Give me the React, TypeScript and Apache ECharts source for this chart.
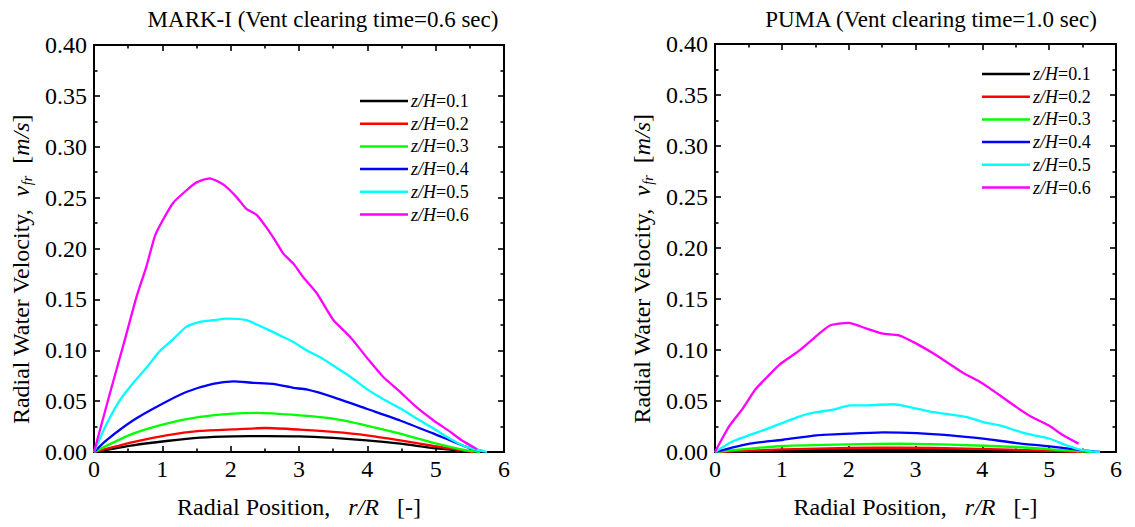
import React, { useEffect, useRef } from "react";
import * as echarts from "echarts";

// ---- Data ----
const seriesNames = ["z/H=0.1", "z/H=0.2", "z/H=0.3", "z/H=0.4", "z/H=0.5", "z/H=0.6"];
const seriesColors = ["#000000", "#ff0000", "#00ff00", "#0000ff", "#00ffff", "#ff00ff"];

const titleLeft = "MARK-I (Vent clearing time=0.6 sec)";
const titleRight = "PUMA (Vent clearing time=1.0 sec)";

const xTicks = [0, 1, 2, 3, 4, 5, 6];
const yTicks = [0, 0.05, 0.1, 0.15, 0.2, 0.25, 0.3, 0.35, 0.4];

// MARK-I
const mark01: [number, number][] = [
  [0, 0], [0.57, 0.0066], [1.06, 0.0108], [1.55, 0.0141], [2.04, 0.0154], [2.52, 0.0157],
  [3.01, 0.0154], [3.5, 0.0138], [3.99, 0.0115], [4.48, 0.0082], [4.97, 0.0039], [5.55, 0],
];
const mark02: [number, number][] = [
  [0, 0], [0.57, 0.0098], [1.06, 0.0164], [1.55, 0.0207], [2.04, 0.0223], [2.52, 0.0236],
  [3.01, 0.022], [3.5, 0.0197], [3.99, 0.0164], [4.48, 0.0115], [4.97, 0.0059], [5.55, 0],
];
const mark03: [number, number][] = [
  [0, 0], [0.57, 0.018], [1.06, 0.028], [1.55, 0.0345], [2.04, 0.0377], [2.38, 0.0384],
  [3.01, 0.036], [3.5, 0.0328], [3.99, 0.026], [4.48, 0.018], [4.97, 0.0089], [5.45, 0.0016], [5.65, 0],
];
const mark04: [number, number][] = [
  [0, 0], [0.18, 0.0115], [0.57, 0.031], [0.96, 0.046], [1.35, 0.059], [1.74, 0.067],
  [2.04, 0.0695], [2.33, 0.068], [2.62, 0.067], [2.92, 0.063], [3.11, 0.0615], [3.5, 0.054],
  [3.99, 0.0425], [4.48, 0.031], [4.97, 0.018], [5.45, 0.005], [5.7, 0.0007],
];
const mark05: [number, number][] = [
  [0, 0], [0.18, 0.027], [0.38, 0.051], [0.6, 0.07], [0.77, 0.083], [0.96, 0.099],
  [1.16, 0.111], [1.35, 0.123], [1.55, 0.128], [1.74, 0.1295], [1.94, 0.131], [2.23, 0.1295],
  [2.52, 0.121], [2.77, 0.113], [2.92, 0.108], [3.11, 0.1], [3.31, 0.093], [3.5, 0.085],
  [3.75, 0.074], [3.99, 0.062], [4.23, 0.052], [4.48, 0.043], [4.72, 0.033], [4.97, 0.023],
  [5.21, 0.013], [5.45, 0.005], [5.75, 0],
];
const mark06: [number, number][] = [
  [0, 0], [0.23, 0.057], [0.45, 0.11], [0.62, 0.152], [0.77, 0.183], [0.89, 0.212],
  [1.0, 0.227], [1.16, 0.245], [1.35, 0.257], [1.5, 0.265], [1.69, 0.269], [1.89, 0.263],
  [2.08, 0.251], [2.23, 0.239], [2.38, 0.233], [2.52, 0.221], [2.65, 0.208], [2.77, 0.195],
  [2.92, 0.185], [3.06, 0.172], [3.26, 0.156], [3.5, 0.13], [3.75, 0.113], [3.99, 0.093],
  [4.23, 0.074], [4.48, 0.059], [4.72, 0.044], [4.97, 0.031], [5.21, 0.02], [5.38, 0.0115],
  [5.6, 0.003],
];

// PUMA
const puma01: [number, number][] = [
  [0, 0], [1.02, 0.0013], [2.02, 0.002], [3.02, 0.002], [4.01, 0.0013], [5.26, 0],
];
const puma02: [number, number][] = [
  [0, 0], [1.02, 0.0026], [2.02, 0.0039], [2.77, 0.0043], [3.77, 0.0033], [4.76, 0.0016], [5.51, 0],
];
const puma03: [number, number][] = [
  [0, 0], [0.52, 0.0033], [1.02, 0.0059], [2.02, 0.0075], [2.77, 0.0082], [3.52, 0.0072],
  [4.51, 0.0049], [5.26, 0.0016], [5.66, 0],
];
const puma04: [number, number][] = [
  [0, 0], [0.52, 0.0082], [1.02, 0.012], [1.52, 0.0164], [2.02, 0.018], [2.52, 0.0193],
  [3.02, 0.0186], [3.52, 0.0164], [4.01, 0.0131], [4.51, 0.0088], [5.01, 0.0056], [5.51, 0.0016], [5.76, 0],
];
const puma05: [number, number][] = [
  [0, 0], [0.27, 0.0105], [0.77, 0.0225], [1.27, 0.035], [1.52, 0.039], [1.77, 0.0415],
  [2.02, 0.0458], [2.27, 0.0458], [2.67, 0.0468], [3.02, 0.0425], [3.27, 0.039], [3.77, 0.0343],
  [4.01, 0.0294], [4.26, 0.026], [4.66, 0.018], [5.01, 0.013], [5.26, 0.0065], [5.51, 0.0016], [5.76, 0],
];
const puma06: [number, number][] = [
  [0, 0], [0.22, 0.026], [0.42, 0.043], [0.6, 0.061], [0.78, 0.0735], [0.97, 0.086],
  [1.27, 0.0998], [1.47, 0.111], [1.72, 0.124], [1.995, 0.1266], [2.27, 0.121], [2.52, 0.116],
  [2.74, 0.1145], [3.02, 0.106], [3.27, 0.0965], [3.47, 0.088], [3.69, 0.0785], [4.01, 0.067],
  [4.26, 0.0556], [4.51, 0.044], [4.74, 0.0343], [4.99, 0.0262], [5.21, 0.0164], [5.44, 0.0082],
];

const markData = [mark01, mark02, mark03, mark04, mark05, mark06];
const pumaData = [puma01, puma02, puma03, puma04, puma05, puma06];

const FONT = "Liberation Serif";
const AX_FS = 24;

function makeAxes(gridIndex: number) {
  const tickStyle = { show: true, inside: true, length: 6, lineStyle: { color: "#000", width: 1.6 } };
  const minor = { show: true, splitNumber: 2, length: 3.5, lineStyle: { color: "#000", width: 1.6 } };
  const line = { show: true, onZero: false, lineStyle: { color: "#000", width: 2 } };
  const xMin = xTicks[0];
  const xMax = xTicks[xTicks.length - 1];
  const yMin = yTicks[0];
  const yMax = yTicks[yTicks.length - 1];
  const xAxes = [
    {
      type: "value", gridIndex, min: xMin, max: xMax, interval: 1, position: "bottom",
      axisLine: line, axisTick: tickStyle, minorTick: minor, splitLine: { show: false },
      axisLabel: { color: "#000", fontFamily: FONT, fontSize: AX_FS, margin: 5 },
      name: "{n|Radial Position,   }{i|r/R}{n|   [-]}",
      nameLocation: "middle", nameGap: 43,
      nameTextStyle: {
        fontFamily: FONT, fontSize: AX_FS, color: "#000",
        rich: {
          n: { fontFamily: FONT, fontSize: AX_FS, color: "#000" },
          i: { fontFamily: FONT, fontSize: AX_FS, color: "#000", fontStyle: "italic" },
        },
      },
    },
    {
      type: "value", gridIndex, min: xMin, max: xMax, interval: 1, position: "top",
      axisLine: line, axisTick: tickStyle, minorTick: minor, splitLine: { show: false },
      axisLabel: { show: false },
    },
  ];
  const yAxes = [
    {
      type: "value", gridIndex, min: yMin, max: yMax, interval: 0.05, position: "left",
      axisLine: line, axisTick: tickStyle, minorTick: minor, splitLine: { show: false },
      axisLabel: {
        color: "#000", fontFamily: FONT, fontSize: AX_FS, margin: 7,
        formatter: (v: number) => v.toFixed(2),
      },
      name: "{n|Radial Water Velocity,  }{i|v}{s|fr}{n|  [}{i|m/s}{n|]}",
      nameLocation: "middle", nameGap: 60, nameRotate: 90,
      nameTextStyle: {
        fontFamily: FONT, fontSize: AX_FS, color: "#000",
        padding: [0, 42, 0, 0],
        rich: {
          n: { fontFamily: FONT, fontSize: AX_FS, color: "#000", lineHeight: 26 },
          i: { fontFamily: FONT, fontSize: AX_FS, color: "#000", fontStyle: "italic", lineHeight: 26 },
          s: { fontFamily: FONT, fontSize: 14, color: "#000", fontStyle: "italic", lineHeight: 26, verticalAlign: "bottom", padding: [10, 0, 0, 1] },
        },
      },
    },
    {
      type: "value", gridIndex, min: yMin, max: yMax, interval: 0.05, position: "right",
      axisLine: line, axisTick: tickStyle, minorTick: minor, splitLine: { show: false },
      axisLabel: { show: false },
    },
  ];
  return { xAxes, yAxes };
}

export default function App() {
  const ref = useRef<HTMLDivElement>(null);
  useEffect(() => {
    if (!ref.current) return;
    const chart = echarts.init(ref.current, undefined, { renderer: "svg" });
    const a0 = makeAxes(0);
    const a1 = makeAxes(1);
    const series: any[] = [];
    seriesNames.forEach((name, i) => {
      series.push({
        name, type: "line", xAxisIndex: 0, yAxisIndex: 0, data: markData[i],
        showSymbol: false, symbol: "none", smooth: 0.2,
        lineStyle: { color: seriesColors[i], width: 2.3 }, itemStyle: { color: seriesColors[i] },
      });
    });
    seriesNames.forEach((name, i) => {
      series.push({
        name, type: "line", xAxisIndex: 2, yAxisIndex: 2, data: pumaData[i],
        showSymbol: false, symbol: "none", smooth: 0.2,
        lineStyle: { color: seriesColors[i], width: 2.3 }, itemStyle: { color: seriesColors[i] },
      });
    });
    const legendBase = {
      orient: "vertical",
      icon: "rect",
      itemWidth: 48,
      itemHeight: 2.5,
      itemGap: 4.7,
      data: seriesNames,
      formatter: (n: string) => "{i|z/H}{n|" + n.replace("z/H", "") + "}",
      textStyle: {
        fontFamily: FONT, fontSize: 18, color: "#000", lineHeight: 18, padding: [0, 0, 0, -2],
        rich: {
          i: { fontFamily: FONT, fontSize: 18, color: "#000", fontStyle: "italic", lineHeight: 18 },
          n: { fontFamily: FONT, fontSize: 18, color: "#000", lineHeight: 18 },
        },
      },
      selectedMode: false,
      padding: 0,
    };
    chart.setOption({
      animation: false,
      title: [
        { text: titleLeft, left: 318, top: 3, textAlign: "center", textStyle: { fontFamily: FONT, fontSize: 23, fontWeight: "normal", color: "#000" } },
        { text: titleRight, left: 926, top: 3, textAlign: "center", textStyle: { fontFamily: FONT, fontSize: 23, fontWeight: "normal", color: "#000" } },
      ],
      grid: [
        { left: 94, top: 45, width: 410, height: 407 },
        { left: 715, top: 44, width: 401, height: 408 },
      ],
      xAxis: [...a0.xAxes, ...a1.xAxes],
      yAxis: [...a0.yAxes, ...a1.yAxes],
      legend: [
        { ...legendBase, left: 360, top: 92 },
        { ...legendBase, left: 982, top: 65 },
      ],
      series,
    });
    return () => chart.dispose();
  }, []);
  return (
    <div
      ref={ref}
      style={{ position: "fixed", left: 0, top: 0, width: 1135, height: 527, background: "#fff" }}
    />
  );
}
